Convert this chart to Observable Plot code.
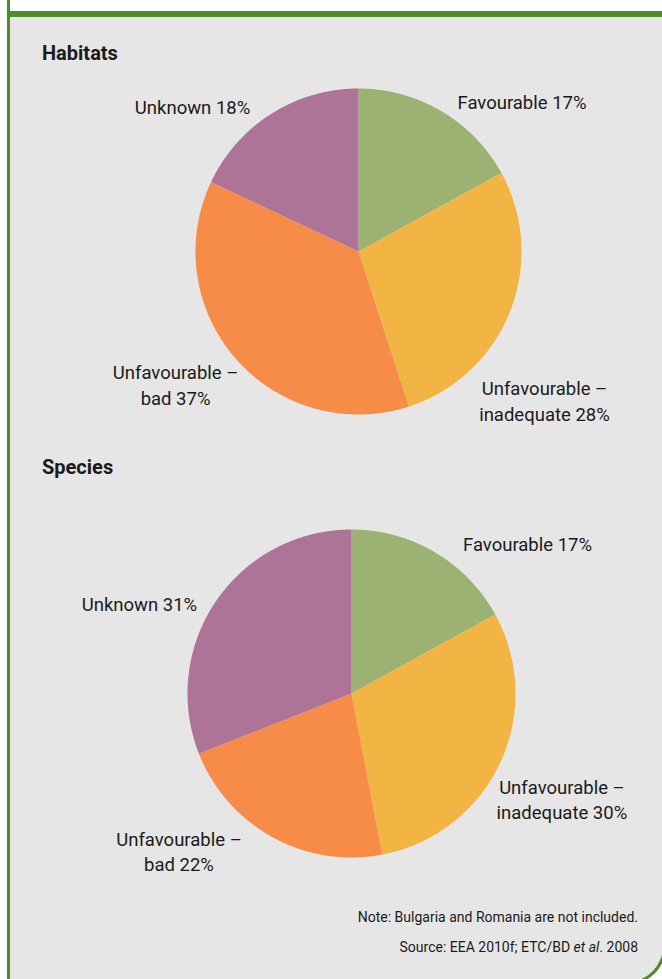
<!DOCTYPE html>
<html>
<head>
<meta charset="utf-8">
<script src="https://cdn.jsdelivr.net/npm/d3@7"></script>
<script src="https://cdn.jsdelivr.net/npm/@observablehq/plot@0.6"></script>
<style>
  html, body { margin: 0; padding: 0; background: #ffffff; overflow: hidden; }
  .page { width: 662px; height: 979px; overflow: hidden; position: relative; font-family: Roboto, "Noto Sans", sans-serif; color: #1a1a1a; background: #ffffff; }
  .stub { position: absolute; left: 7px; top: 0; width: 3px; height: 12px; background: #4f8a2b; }
  .frame { position: absolute; left: 7px; top: 11px; width: 659px; height: 974px; box-sizing: border-box;
           border-top: 6px solid #4f8a2b; border-left: 3px solid #4f8a2b;
           border-bottom-right-radius: 39px; background: #e6e6e6; }
  .corner { position: absolute; left: 627px; top: 946px; width: 39px; height: 39px; box-sizing: border-box;
            border-right: 3px solid #4f8a2b; border-bottom: 3px solid #4f8a2b; border-bottom-right-radius: 39px; }
  .heading { position: absolute; left: 42px; font-weight: bold; font-size: 20px; line-height: 20px; }
  .note { position: absolute; right: 24px; font-size: 14px; line-height: 14px; text-align: right; }
  .chart { position: absolute; left: 0; }
</style>
</head>
<body>
<div class="page">
<div class="stub"></div>
<div class="frame"></div>
<div class="corner"></div>
<div class="heading" style="top:43px">Habitats</div>
<div class="heading" style="top:457px">Species</div>
<div id="hab" class="chart" style="top:70px"></div>
<div id="spe" class="chart" style="top:480px"></div>
<div class="note" style="top:910px">Note: Bulgaria and Romania are not included.</div>
<div class="note" style="top:940px">Source: EEA 2010f; ETC/BD <i>et al</i>. 2008</div>
</div>
<script>
// ---- data ----
const categories = ["Favourable", "Unfavourable – inadequate", "Unfavourable – bad", "Unknown"];
const habitatsPct = [17, 28, 37, 18];
const speciesPct = [17, 30, 22, 31];

// ---- styles / layout ----
const sliceColors = ["#9bb273", "#f2b443", "#f78c48", "#ad7498"];
const habLayout = {W: 662, H: 370, cx: 358, cy: 181, R: 163,
  nudge: [[80.5, -10.7], [34.4, 88.5], [-60.7, 24.7], [-78.6, -8.4]]};
const speLayout = {W: 662, H: 410, cx: 351, cy: 213, R: 164,
  nudge: [[92.5, -9.8], [62, 35], [-93.5, 13.3], [-76.4, 1.2]]};

function pieChart(values, layout) {
  const total = d3.sum(values);
  const wedges = [];
  const labels = [];
  let acc = 0;
  values.forEach((v, i) => {
    const a0 = acc / total * 2 * Math.PI;
    acc += v;
    const a1 = acc / total * 2 * Math.PI;
    const n = Math.max(2, Math.ceil((a1 - a0) / (Math.PI / 360)));
    wedges.push({k: i, x: 0, y: 0});
    for (let j = 0; j <= n; j++) {
      const a = a0 + (a1 - a0) * j / n;
      wedges.push({k: i, x: Math.sin(a), y: Math.cos(a)});
    }
    wedges.push({k: i, x: 0, y: 0});
    const m = (a0 + a1) / 2;
    const [ndx, ndy] = layout.nudge[i];
    labels.push({
      text: categories[i].replace(" – ", " –\n") + " " + v + "%",
      x: Math.sin(m) + ndx / layout.R,
      y: Math.cos(m) - ndy / layout.R
    });
  });
  const {W, H, cx, cy, R} = layout;
  return Plot.plot({
    width: W, height: H,
    margin: 0,
    style: {background: "transparent", fontFamily: "Roboto, 'Noto Sans', sans-serif", color: "#1a1a1a"},
    x: {domain: [-cx / R, (W - cx) / R], axis: null},
    y: {domain: [-(H - cy) / R, cy / R], axis: null},
    color: {type: "identity"},
    marks: [
      Plot.line(wedges, {x: "x", y: "y", z: "k", fill: d => sliceColors[d.k], stroke: "none", curve: "linear"}),
      Plot.text(labels, {x: "x", y: "y", text: "text", fontSize: 18.5, lineHeight: 1.36, textAnchor: "middle", fill: "#1a1a1a"})
    ]
  });
}

document.getElementById("hab").appendChild(pieChart(habitatsPct, habLayout));
document.getElementById("spe").appendChild(pieChart(speciesPct, speLayout));
</script>
</body>
</html>
